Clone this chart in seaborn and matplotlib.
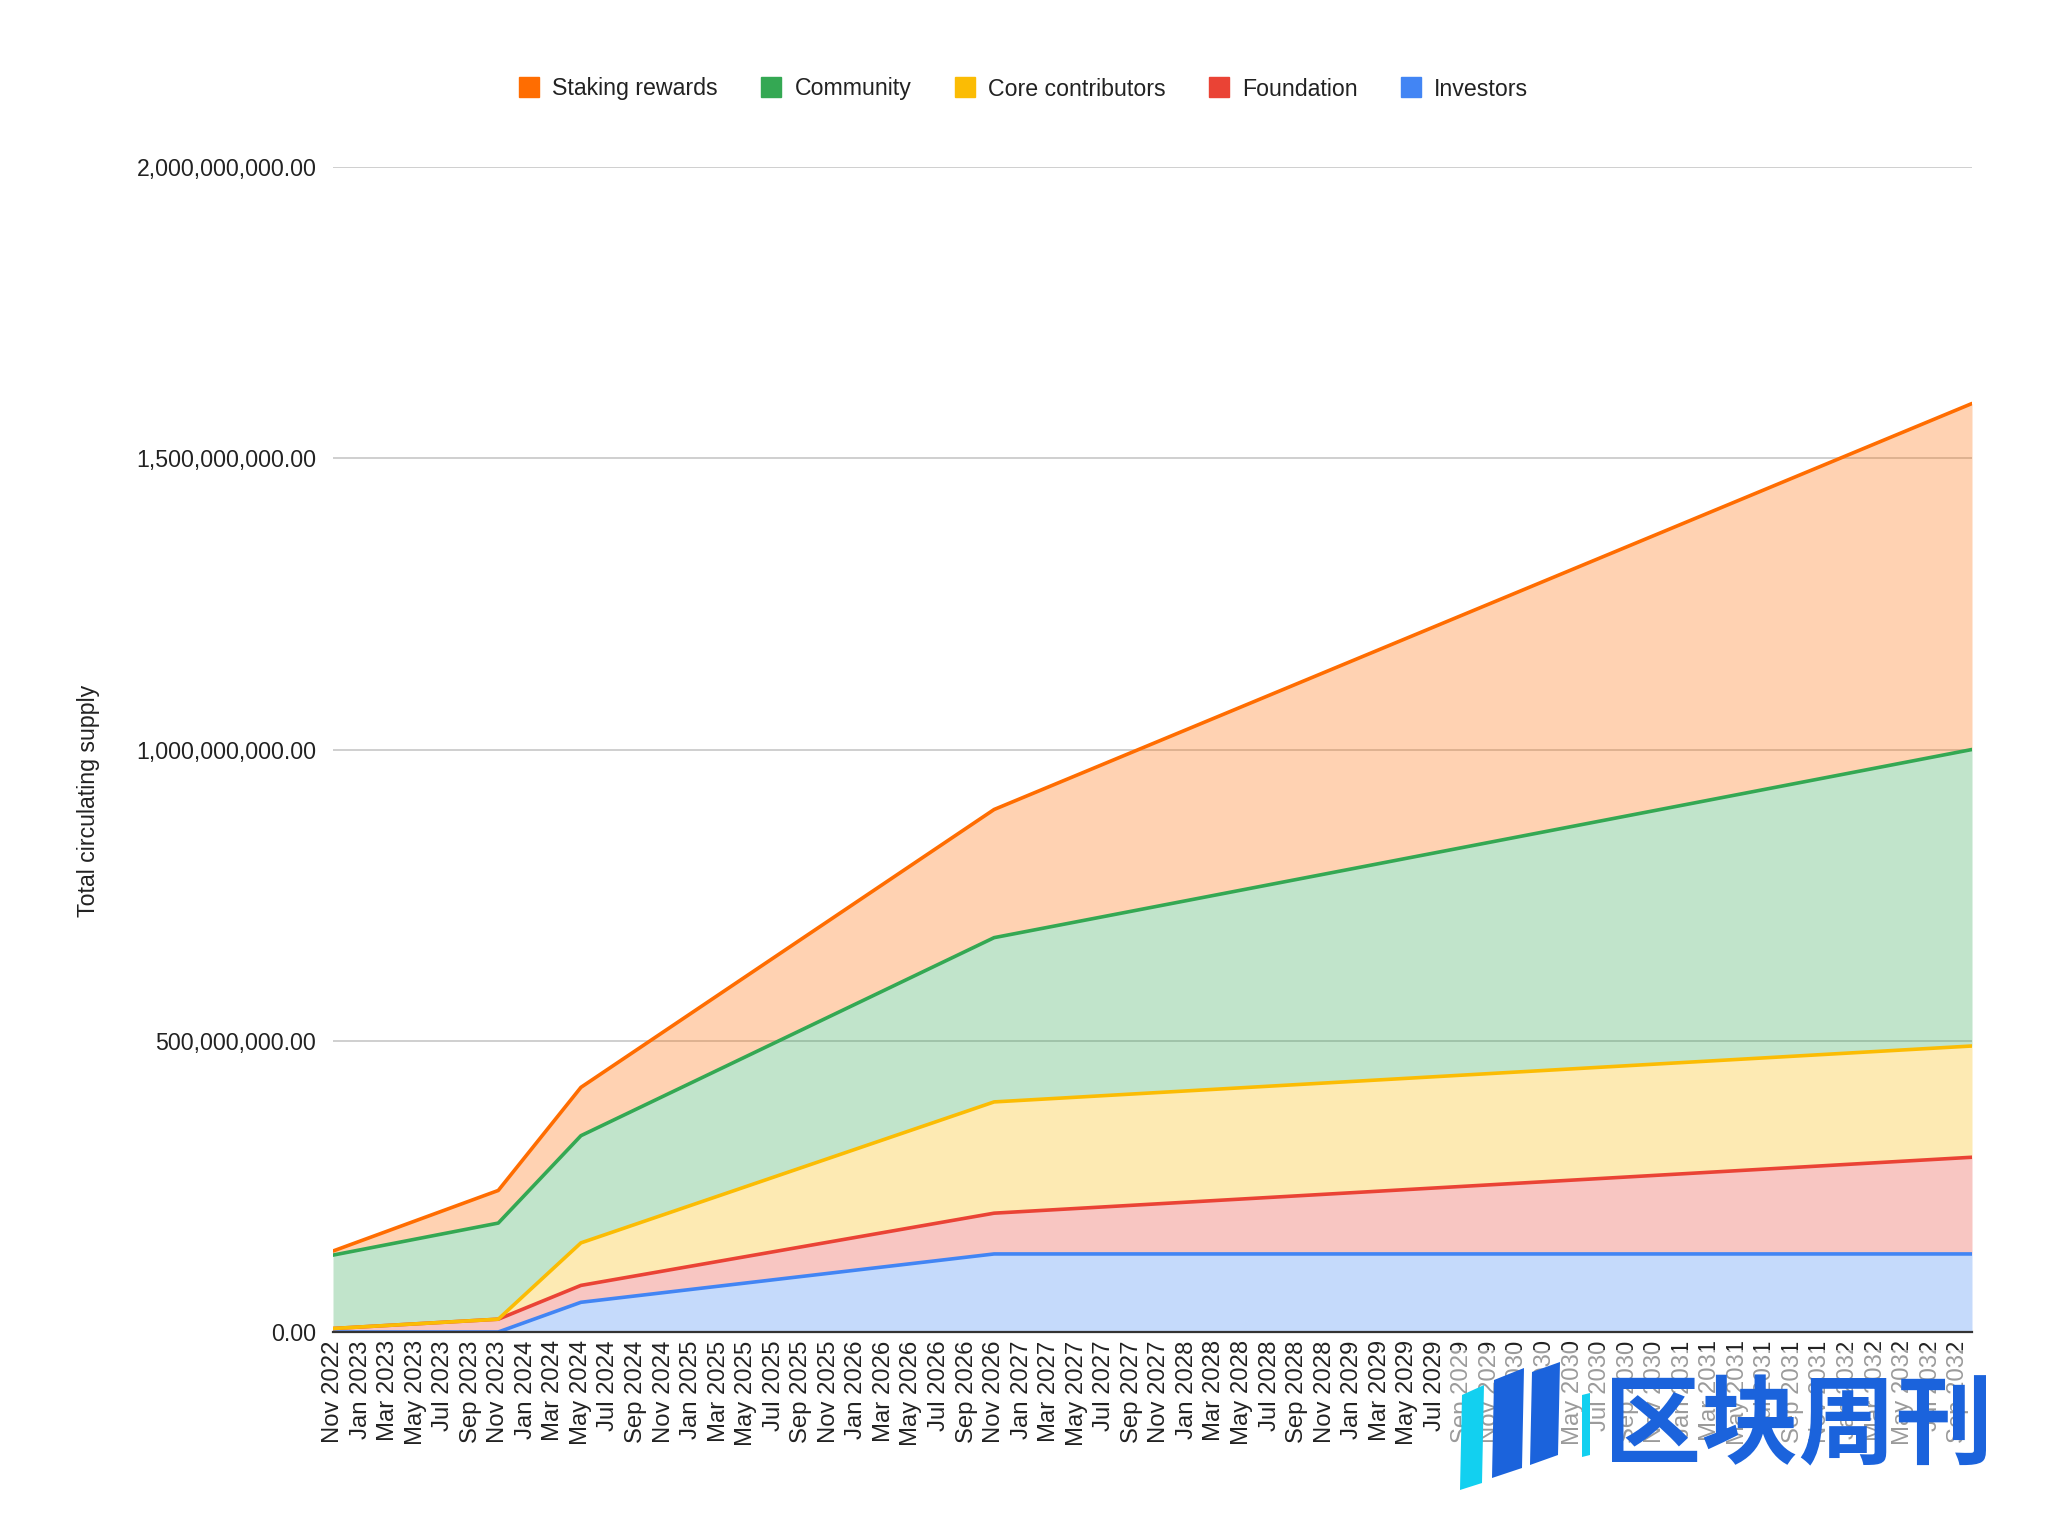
import matplotlib
matplotlib.use("Agg")
import matplotlib.pyplot as plt
import seaborn as sns
import pandas as pd
from matplotlib.lines import Line2D
from matplotlib.patches import Rectangle, Polygon
from matplotlib.ticker import FuncFormatter

# ---------------- data (millions of tokens, per series, at vesting breakpoints) ----------------
point_dates = ["2022-11", "2023-11", "2024-05", "2026-11", "2032-10"]
investors = [0, 0, 51, 134, 134]
foundation = [6, 22, 29, 70, 166]
core_contributors = [0, 0, 73, 191, 191]
community = [126, 165, 184, 282, 509]
staking_rewards = [7, 56, 83, 220, 594]

series_names = ["Investors", "Foundation", "Core contributors", "Community", "Staking rewards"]
series_colors = ["#4285F4", "#EA4335", "#FBBC04", "#34A853", "#FF6D01"]

tick_labels = [
    "Nov 2022",
    "Jan 2023", "Mar 2023", "May 2023", "Jul 2023", "Sep 2023", "Nov 2023",
    "Jan 2024", "Mar 2024", "May 2024", "Jul 2024", "Sep 2024", "Nov 2024",
    "Jan 2025", "Mar 2025", "May 2025", "Jul 2025", "Sep 2025", "Nov 2025",
    "Jan 2026", "Mar 2026", "May 2026", "Jul 2026", "Sep 2026", "Nov 2026",
    "Jan 2027", "Mar 2027", "May 2027", "Jul 2027", "Sep 2027", "Nov 2027",
    "Jan 2028", "Mar 2028", "May 2028", "Jul 2028", "Sep 2028", "Nov 2028",
    "Jan 2029", "Mar 2029", "May 2029", "Jul 2029", "Sep 2029", "Nov 2029",
    "Jan 2030", "Mar 2030", "May 2030", "Jul 2030", "Sep 2030", "Nov 2030",
    "Jan 2031", "Mar 2031", "May 2031", "Jul 2031", "Sep 2031", "Nov 2031",
    "Jan 2032", "Mar 2032", "May 2032", "Jul 2032", "Sep 2032",
]

# ---------------- build table ----------------
start = pd.Period("2022-11", freq="M")
month_idx = [(pd.Period(d, freq="M") - start).n for d in point_dates]
tick_pos = [(pd.Period(pd.to_datetime(t, format="%b %Y"), freq="M") - start).n for t in tick_labels]

values = [investors, foundation, core_contributors, community, staking_rewards]
df = pd.DataFrame({"month": month_idx})
cum = [0.0] * len(month_idx)
for name, vals in zip(series_names, values):
    cum = [c + v * 1e6 for c, v in zip(cum, vals)]
    df[name] = cum

# ---------------- style ----------------
sns.set_theme(style="white")
plt.rcParams["font.family"] = ["Liberation Sans", "DejaVu Sans"]
FS = 16.7

fig = plt.figure(figsize=(20.48, 15.23), dpi=100)
ax = fig.add_axes([333 / 2048, 1 - 1332 / 1523, (1972 - 333) / 2048, (1332 - 167) / 1523])

# fills
prev = [0.0] * len(month_idx)
for name, col in zip(series_names, series_colors):
    ax.fill_between(df["month"], prev, df[name], color=col, alpha=0.3, linewidth=0, zorder=1)
    prev = list(df[name])

# lines
for name, col in zip(series_names, series_colors):
    sns.lineplot(data=df, x="month", y=name, ax=ax, color=col, linewidth=2.6, zorder=3)

ax.set_xlim(0, month_idx[-1])
ax.set_ylim(0, 2e9)
ax.set_yticks([0, 5e8, 1e9, 1.5e9, 2e9])
ax.yaxis.set_major_formatter(FuncFormatter(lambda v, p: f"{v:,.2f}"))
ax.set_xticks(tick_pos)
ax.set_xticklabels(tick_labels, rotation=90, fontsize=17.2, color="#222222")
ax.tick_params(axis="y", labelsize=FS, labelcolor="#222222", length=0, pad=12)
ax.tick_params(axis="x", length=0, pad=6)
ax.set_xlabel("")
ax.set_ylabel("")
ax.grid(axis="y", color="#cccccc", linewidth=1.3, zorder=0)
ax.grid(axis="x", visible=False)
for s in ["top", "right", "left"]:
    ax.spines[s].set_visible(False)
ax.spines["bottom"].set_color("#333333")
ax.spines["bottom"].set_linewidth(1.6)
ax.spines["bottom"].set_zorder(4)
ax.set_axisbelow(True)

fig.text(89 / 2048, 1 - 801 / 1523, "Total circulating supply", rotation=90,
         ha="center", va="center", fontsize=FS, color="#222222")

# legend (top-to-bottom order of stack)
leg_order = list(range(len(series_names)))[::-1]
handles = [Line2D([0], [0], marker="s", linestyle="none", markersize=14.5,
                  markerfacecolor=series_colors[i], markeredgecolor=series_colors[i])
           for i in leg_order]
labels = [series_names[i] for i in leg_order]
fig.legend(handles, labels, loc="center", bbox_to_anchor=(1023 / 2048, 1 - 89 / 1523),
           ncol=5, frameon=False, fontsize=FS, handlelength=1.0, handletextpad=0.5,
           columnspacing=1.8, labelcolor="#222222")

# watermark
def fx(px):
    return px / 2048

def fy(py):
    return 1 - py / 1523

fig.patches.append(Rectangle((fx(1445), fy(1500)), fx(2048) - fx(1445), fy(1350) - fy(1500),
                             transform=fig.transFigure, facecolor="white", alpha=0.55,
                             edgecolor="none", zorder=5))
bars = [
    ([(1462, 1395), (1484, 1385), (1482, 1483), (1460, 1490)], "#12d0f0"),
    ([(1494, 1380), (1524, 1368), (1522, 1468), (1492, 1478)], "#1b63dc"),
    ([(1532, 1372), (1560, 1362), (1558, 1455), (1530, 1465)], "#1b63dc"),
    ([(1582, 1395), (1590, 1393), (1590, 1455), (1582, 1457)], "#12d0f0"),
]
for pts, col in bars:
    fig.patches.append(Polygon([(fx(x), fy(y)) for x, y in pts], closed=True,
                               transform=fig.transFigure, facecolor=col, edgecolor="none",
                               zorder=6))
fig.text(fx(1798), fy(1428), "区块周刊", ha="center", va="center", fontsize=70,
         fontweight="bold", color="#1b63dc", family=["Noto Sans CJK SC", "DejaVu Sans"],
         zorder=7)

fig.savefig("out.png", dpi=100, facecolor="white")
